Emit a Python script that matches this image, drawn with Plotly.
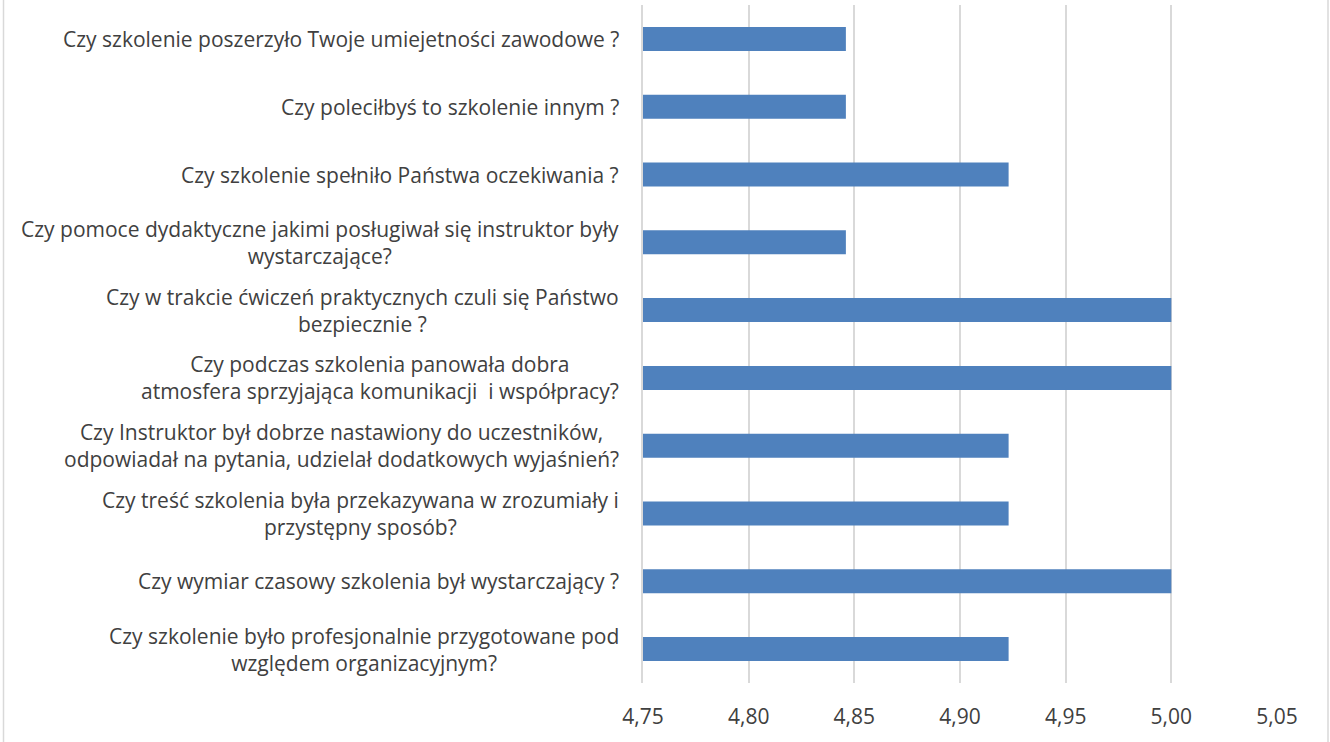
import plotly.graph_objects as go

categories = [
    "Czy szkolenie poszerzyło Twoje umiejetności zawodowe ?",
    "Czy poleciłbyś to szkolenie innym ?",
    "Czy szkolenie spełniło Państwa oczekiwania ?",
    "Czy pomoce dydaktyczne jakimi posługiwał się instruktor były<br>wystarczające?",
    "Czy w trakcie ćwiczeń praktycznych czuli się Państwo<br>bezpiecznie ?",
    "Czy podczas szkolenia panowała dobra<br>atmosfera sprzyjająca komunikacji\u00a0 i współpracy?",
    "Czy Instruktor był dobrze nastawiony do uczestników,<br>odpowiadał na pytania, udzielał dodatkowych wyjaśnień?",
    "Czy treść szkolenia była przekazywana w zrozumiały i<br>przystępny sposób?",
    "Czy wymiar czasowy szkolenia był wystarczający ?",
    "Czy szkolenie było profesjonalnie przygotowane pod<br>względem organizacyjnym?",
]
values = [4.846, 4.846, 4.923, 4.846, 5.00, 5.00, 4.923, 4.923, 5.00, 4.923]
tick_vals = [4.75, 4.80, 4.85, 4.90, 4.95, 5.00, 5.05]
axis_min, axis_max = 4.75, 5.05

W, H = 1330, 742
ml, mr, mt, mb = 643, 53, 5, 59
pw, ph = W - ml - mr, H - mt - mb

font_family = "Open Sans"
text_color = "#404040"
grid_color = "#D9D9D9"

ids = list(range(len(categories)))

fig = go.Figure(go.Bar(
    x=[v - axis_min for v in values], y=ids, orientation="h",
    base=axis_min,
    marker=dict(color="#4F81BD", line=dict(width=0)),
    width=0.354,
    customdata=values,
    hovertemplate="%{customdata}<extra></extra>",
))

annotations = []
for i, c in enumerate(categories):
    annotations.append(dict(
        x=0, xref="paper", xanchor="right", xshift=-22,
        y=i, yref="y", yanchor="middle",
        text=c, showarrow=False, align="center",
        font=dict(family=font_family, size=21, color=text_color),
    ))

fig.update_layout(
    width=W, height=H,
    margin=dict(l=ml, r=mr, t=mt, b=mb, pad=0),
    paper_bgcolor="white", plot_bgcolor="white",
    separators=", ",
    showlegend=False,
    annotations=annotations,
    xaxis=dict(
        range=[axis_min, axis_max], tickvals=tick_vals, tickformat=".2f",
        showgrid=True, gridcolor=grid_color, gridwidth=1.5,
        zeroline=False, showline=False,
        tickfont=dict(family=font_family, size=21, color=text_color),
        ticks="", ticklabelstandoff=19,
    ),
    yaxis=dict(
        range=[len(categories) - 0.5, -0.5],
        showticklabels=False, showgrid=False, zeroline=False,
        showline=True, linecolor=grid_color, linewidth=1.5,
        ticks="",
    ),
    shapes=[dict(
        type="rect", xref="paper", yref="paper",
        x0=(3.5 - ml) / pw, x1=(1328 - ml) / pw,
        y0=-(mb + 20) / ph, y1=1 + (mt + 20) / ph,
        line=dict(color=grid_color, width=1.5), fillcolor="rgba(0,0,0,0)",
        layer="below",
    )],
)

fig.write_html(
    "out.html",
    config={"displayModeBar": False},
    post_script="document.body.style.margin='0';document.body.style.overflow='hidden';",
)
